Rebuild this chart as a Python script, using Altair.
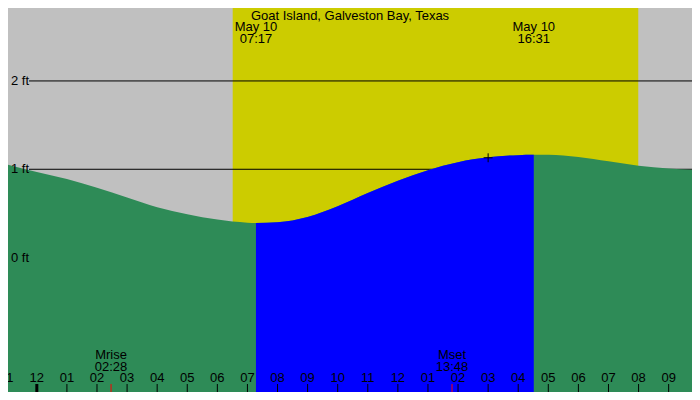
import altair as alt
import pandas as pd

# Tide height (ft); hours counted from midnight, May 10
tide_hours = [-1, 0, 1, 2, 3, 4, 5, 6, 7, 7.283, 8, 9, 10, 11, 12, 13, 14, 15, 16, 16.517, 17, 18, 19, 20, 21, 22]
tide_ft = [1.055, 0.97, 0.89, 0.79, 0.68, 0.57, 0.49, 0.43, 0.395, 0.392, 0.40, 0.46, 0.58, 0.73, 0.87, 0.99,
           1.08, 1.135, 1.16, 1.163, 1.165, 1.14, 1.09, 1.04, 1.01, 0.99]

station = "Goat Island, Galveston Bay, Texas"
sun_hours = [7.283, 16.517]
sun_dates = ["May 10", "May 10"]
sun_labels = ["07:17", "16:31"]
light_start = 6.51
light_end = 19.99

moon_hours = [2.467, 13.8]
moon_names = ["Mrise", "Mset"]
moon_labels = ["02:28", "13:48"]

level_ft = [0, 1, 2]
level_labels = ["0 ft", "1 ft", "2 ft"]

now_hour = [15.0]
now_ft = [1.13]

tick_hours = list(range(-1, 22))
tick_labels = ["11", "12", "01", "02", "03", "04", "05", "06", "07", "08", "09", "10", "11",
               "12", "01", "02", "03", "04", "05", "06", "07", "08", "09"]

W, H = 684, 384
FONT = "Liberation Sans"

tide = pd.DataFrame({"hour": tide_hours, "ft": tide_ft})
day = tide[(tide.hour >= sun_hours[0]) & (tide.hour <= sun_hours[1])]
sun = pd.DataFrame({"hour": sun_hours, "date": sun_dates, "time": sun_labels})
moon = pd.DataFrame({"hour": moon_hours, "name": moon_names, "time": moon_labels})
levels = pd.DataFrame({"ft": level_ft, "label": level_labels})
ticks = pd.DataFrame({"hour": tick_hours, "label": tick_labels})
light = pd.DataFrame({"start": [light_start], "end": [light_end]})
now = pd.DataFrame({"hour": now_hour, "ft": now_ft})

xs = alt.Scale(domain=[-0.958, 21.776], nice=False, zero=False)
ys = alt.Scale(domain=[-1.522, 2.826], nice=False, zero=False)
X = lambda f: alt.X(f, scale=xs, axis=None)
Y = lambda f: alt.Y(f, scale=ys, axis=None)

# daylight band
band = alt.Chart(light).mark_rect(color="#cccc00").encode(
    x=X("start:Q"), x2="end:Q", y=alt.value(0), y2=alt.value(H)
)

lines = alt.Chart(levels[levels.ft > 0]).mark_rule(color="black", strokeWidth=1).encode(
    x=alt.value(21), x2=alt.value(W), y=Y("ft:Q")
)

green = alt.Chart(tide).mark_area(color="#2e8b57", interpolate="monotone", clip=True).encode(
    x=X("hour:Q"), y=Y("ft:Q"), y2=alt.datum(-1.522)
)
blue = alt.Chart(day).mark_area(color="#0000ff", interpolate="monotone", clip=True).encode(
    x=X("hour:Q"), y=Y("ft:Q"), y2=alt.datum(-1.522)
)

cross = alt.Chart(now).mark_point(shape="M-1,0L1,0M0,-1L0,1", size=80, filled=False,
                                  stroke="black", strokeWidth=1, opacity=1).encode(
    x=X("hour:Q"), y=Y("ft:Q")
)

txt = dict(font=FONT, fontSize=13, color="black", baseline="middle")

level_text = alt.Chart(levels).mark_text(align="left", **txt).encode(
    x=alt.value(3), y=Y("ft:Q"), text="label:N"
)

tick_marks = alt.Chart(ticks[ticks.hour != 0]).mark_rule(color="black", strokeWidth=1).encode(
    x=X("hour:Q"), y=alt.value(H - 8), y2=alt.value(H)
)
midnight = alt.Chart(ticks[ticks.hour == 0]).mark_rule(color="black", strokeWidth=3).encode(
    x=X("hour:Q"), y=alt.value(H - 8), y2=alt.value(H)
)
tick_text = alt.Chart(ticks).mark_text(align="center", **txt).encode(
    x=X("hour:Q"), y=alt.value(H - 14.5), text="label:N"
)

moon_ticks = alt.Chart(moon).mark_rule(color="#ff0000", strokeWidth=1).encode(
    x=X("hour:Q"), y=alt.value(H - 8), y2=alt.value(H)
)
moon_name = alt.Chart(moon).mark_text(align="center", **txt).encode(
    x=X("hour:Q"), y=alt.value(H - 37), text="name:N"
)
moon_time = alt.Chart(moon).mark_text(align="center", **txt).encode(
    x=X("hour:Q"), y=alt.value(H - 25.5), text="time:N"
)

title = alt.Chart(pd.DataFrame({"t": [station]})).mark_text(align="center", **txt).encode(
    x=alt.value(W / 2), y=alt.value(7.5), text="t:N"
)
sun_date = alt.Chart(sun).mark_text(align="center", **txt).encode(
    x=X("hour:Q"), y=alt.value(18.5), text="date:N"
)
sun_time = alt.Chart(sun).mark_text(align="center", **txt).encode(
    x=X("hour:Q"), y=alt.value(30.5), text="time:N"
)

chart = alt.layer(
    band, lines, green, blue, cross, level_text,
    tick_marks, midnight, moon_ticks, tick_text, moon_name, moon_time,
    title, sun_date, sun_time
).properties(
    width=W, height=H, padding=0, autosize=alt.AutoSizeParams(type="none")
).configure_view(stroke=None, fill="#c0c0c0")

chart.save("out.html", embed_options={"renderer": "svg", "actions": False})
